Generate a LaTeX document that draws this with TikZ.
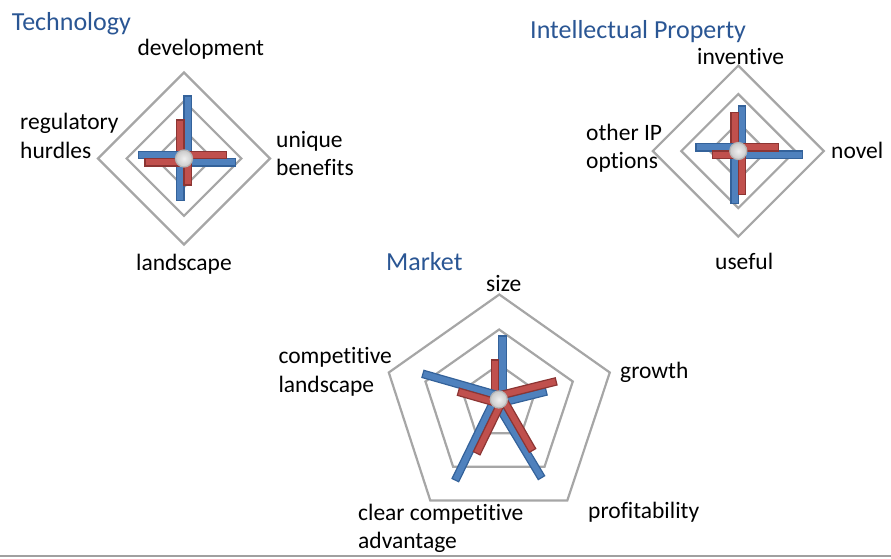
\documentclass[tikz,border=0pt]{standalone}
\usepackage{fontspec}
\setmainfont{Carlito}[RawFeature={-liga;-clig;-dlig;-rlig;-calt;-ccmp}]
\definecolor{ringc}{HTML}{A6A6A6}
\definecolor{barblue}{HTML}{4F81BD}
\definecolor{barblueb}{HTML}{34629A}
\definecolor{barred}{HTML}{C0504D}
\definecolor{barredb}{HTML}{8C3533}
\definecolor{hubb}{HTML}{B5B5B5}
\definecolor{titleblue}{HTML}{2A5694}
\definecolor{botline}{HTML}{A0A0A0}
\newcommand\bluebar[3]{\begin{scope}[shift={(#1)},rotate=#2]\draw[bluebarst] (0,-7.4) rectangle (#3,0);\end{scope}}
\newcommand\redbar[3]{\begin{scope}[shift={(#1)},rotate=#2]\draw[redbarst] (0,0) rectangle (#3,7.4);\end{scope}}
\begin{document}
\begin{tikzpicture}[x=1pt,y=1pt,
  ring/.style={draw=ringc, line width=2.2pt, line join=miter},
  bluebarst/.style={fill=barblue, draw=barblueb, line width=1.2pt},
  redbarst/.style={fill=barred, draw=barredb, line width=1.2pt},
  hub/.style={circle, minimum size=17pt, inner sep=0pt, draw=hubb, line width=1.2pt, inner color=white!88!gray, outer color=gray!42},
  lbl/.style={anchor=base west, inner sep=0pt, font=\fontsize{23.5}{28}\selectfont, text=black},
  ttl/.style={anchor=base west, inner sep=0pt, font=\fontsize{26}{31}\selectfont, text=titleblue}]
\useasboundingbox (0,0) rectangle (891,-558);
\fill[white] (0,0) rectangle (891,-558);
\draw[draw=botline, line width=2pt] (0,-555.5) -- (891,-555.5);

\coordinate (tc) at (184,-158.5);
\coordinate (ic) at (738.3,-151);
\coordinate (mc) at (498.8,-399.5);

% Technology rings
\begin{scope}[shift={(tc)}]
\foreach \r in {28.67,57.33,86}
  \draw[ring] (0,\r) -- (\r,0) -- (0,-\r) -- (-\r,0) -- cycle;
\end{scope}
% IP rings
\begin{scope}[shift={(ic)}]
\foreach \r in {28.5,57,85.5}
  \draw[ring] (0,\r) -- (\r,0) -- (0,-\r) -- (-\r,0) -- cycle;
\end{scope}
% Market rings
\begin{scope}[shift={(mc)}]
\foreach \s in {0.3333,0.6667,1}
  \draw[ring,scale=\s] (0.5,105) -- (111,27) -- (68.5,-101) -- (-68.5,-101) -- (-110,27) -- cycle;
\end{scope}

% Technology bars
\bluebar{tc}{90}{62.5}\redbar{tc}{90}{38.5}
\bluebar{tc}{0}{51.7}\redbar{tc}{0}{42.7}
\bluebar{tc}{-90}{42}\redbar{tc}{-90}{26.5}
\bluebar{tc}{180}{45.7}\redbar{tc}{180}{39}
% IP bars
\bluebar{ic}{90}{45}\redbar{ic}{90}{38.3}
\bluebar{ic}{0}{64}\redbar{ic}{0}{40}
\bluebar{ic}{-90}{52.3}\redbar{ic}{-90}{43.3}
\bluebar{ic}{180}{42.3}\redbar{ic}{180}{26}
% Market bars
\bluebar{mc}{90}{63.5}\redbar{mc}{90}{39.5}
\bluebar{mc}{14}{48}\redbar{mc}{14}{60}
\bluebar{mc}{-59}{89}\redbar{mc}{-60}{61}
\bluebar{mc}{-116}{91.5}\redbar{mc}{-116}{58}
\bluebar{mc}{164}{80}\redbar{mc}{164}{41}

% hubs
\node[hub] (th) at (tc) {};
\node[hub] (ih) at (ic) {};
\node[hub] (mh) at (mc) {};

% Technology labels
\node[ttl] (tt) at (11.7,-30) {Technology};
\node[lbl] (tdev) at (137.3,-55) {development};
\node[lbl] (treg1) at (20,-129.5) {regulatory};
\node[lbl] (treg2) at (20,-158) {hurdles};
\node[lbl] (tuni1) at (276,-147) {unique};
\node[lbl] (tuni2) at (276,-175) {benefits};
\node[lbl] (tland) at (136,-270) {landscape};
% IP labels
\node[ttl] (it) at (530,-38.5) {Intellectual Property};
\node[lbl] (iinv) at (697,-64.5) {inventive};
\node[lbl] (ioth1) at (586,-140.5) {other IP};
\node[lbl] (ioth2) at (586,-168) {options};
\node[lbl] (inov) at (831,-158) {novel};
\node[lbl] (iuse) at (715,-269) {useful};
% Market labels
\node[ttl] (mt) at (386,-270) {Market};
\node[lbl] (msize) at (486,-291) {size};
\node[lbl] (mcomp1) at (278.3,-363.3) {competitive};
\node[lbl] (mcomp2) at (278.3,-392.3) {landscape};
\node[lbl] (mgrow) at (620,-378) {growth};
\node[lbl] (mprof) at (588,-518) {profitability};
\node[lbl] (mclr1) at (358,-520.5) {clear competitive};
\node[lbl] (mclr2) at (358,-548.5) {advantage};
\end{tikzpicture}
\end{document}
